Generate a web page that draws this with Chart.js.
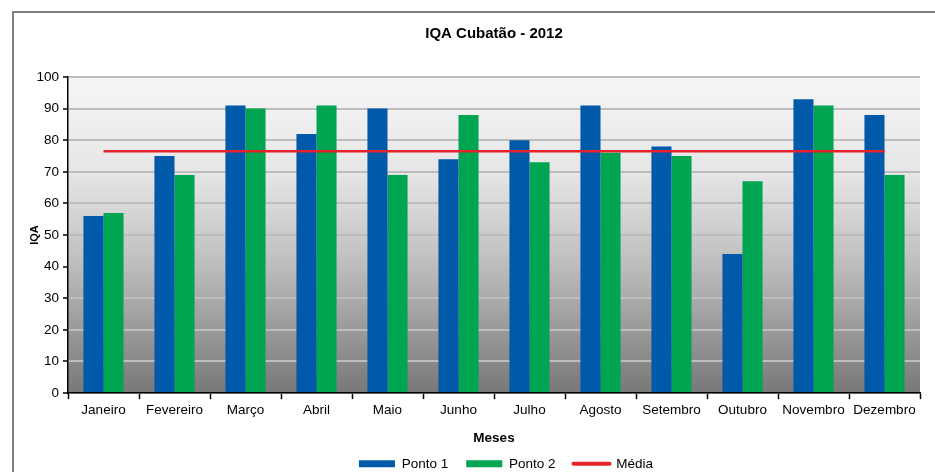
<!DOCTYPE html>
<html>
<head>
<meta charset="utf-8">
<script src="https://cdn.jsdelivr.net/npm/chart.js@4.4.0/dist/chart.umd.min.js"></script>
<style>
html,body{margin:0;padding:0;background:#fff;}
#wrap{position:relative;width:935px;height:472px;}
</style>
</head>
<body>
<div id="wrap"><canvas id="c" width="935" height="472"></canvas></div>
<script>
const categories = ["Janeiro","Fevereiro","Março","Abril","Maio","Junho","Julho","Agosto","Setembro","Outubro","Novembro","Dezembro"];
const ponto1 = [56,75,91,82,90,74,80,91,78,44,93,88];
const ponto2 = [57,69,90,91,69,88,73,76,75,67,91,69];
const media = [76.5,76.5,76.5,76.5,76.5,76.5,76.5,76.5,76.5,76.5,76.5,76.5];
const yTicks = [0,10,20,30,40,50,60,70,80,90,100];

const FONT = "'Liberation Sans', Arial, sans-serif";

const bgPlugin = {
  id: 'bg',
  afterLayout(chart) {
    const a = chart.chartArea;
    if (chart.titleBlock) { chart.titleBlock.left = a.left; chart.titleBlock.right = a.right; }
    if (chart.legend) {
      const lg = chart.legend;
      const h = lg.bottom - lg.top;
      lg.left = a.left + 12; lg.right = a.right + 12;
      lg.top = a.bottom + 46; lg.bottom = lg.top + h;
    }
  },
  beforeDraw(chart) {
    const {ctx, chartArea: a} = chart;
    ctx.save();
    ctx.fillStyle = '#fff';
    ctx.fillRect(0, 0, chart.width, chart.height);
    const g = ctx.createLinearGradient(0, a.top, 0, a.bottom);
    g.addColorStop(0, '#f6f6f8');
    g.addColorStop(0.3, '#e6e6e6');
    g.addColorStop(0.55, '#c4c4c4');
    g.addColorStop(1, '#787878');
    ctx.fillStyle = g;
    ctx.fillRect(a.left, a.top, a.right - a.left, a.bottom - a.top);
    ctx.strokeStyle = '#7f7f7f';
    ctx.lineWidth = 2;
    ctx.beginPath();
    ctx.moveTo(13, chart.height + 5);
    ctx.lineTo(13, 12);
    ctx.lineTo(chart.width + 5, 12);
    ctx.stroke();
    ctx.restore();
  }
};

new Chart(document.getElementById('c'), {
  type: 'bar',
  data: {
    labels: categories,
    datasets: [
      {label: 'Ponto 1', data: ponto1, backgroundColor: '#0059a9', borderWidth: 0, pointStyle: 'rect', order: 2},
      {label: 'Ponto 2', data: ponto2, backgroundColor: '#00a552', borderWidth: 0, pointStyle: 'rect', order: 2},
      {label: 'Média', type: 'line', data: media, borderColor: '#e6222b', backgroundColor: '#e6222b', borderWidth: 2.5, pointRadius: 0, pointStyle: 'line', order: 1}
    ]
  },
  plugins: [bgPlugin],
  options: {
    responsive: false,
    animation: false,
    devicePixelRatio: 1,
    layout: {padding: {left: 0, right: 15, top: 0, bottom: -16}},
    datasets: {bar: {categoryPercentage: 0.565, barPercentage: 1.0}},
    plugins: {
      title: {
        display: true,
        text: 'IQA Cubatão - 2012',
        color: '#000',
        font: {family: FONT, size: 15, weight: 'bold'},
        padding: {top: 25, bottom: 34}
      },
      legend: {
        position: 'bottom',
        labels: {
          color: '#000',
          font: {family: FONT, size: 13.5},
          usePointStyle: true,
          pointStyleWidth: 36,
          boxHeight: 7,
          padding: 18,
          sort: (a, b) => a.datasetIndex - b.datasetIndex,
          generateLabels(chart) {
            const items = Chart.defaults.plugins.legend.labels.generateLabels(chart);
            items.forEach(it => { if (it.pointStyle === 'line') { it.lineWidth = 4; it.lineCap = 'round'; } });
            return items;
          }
        }
      },
      tooltip: {enabled: false}
    },
    scales: {
      x: {
        grid: {drawOnChartArea: false, drawTicks: true, tickLength: 6, tickColor: '#000', tickWidth: 1.5, offset: true},
        border: {color: '#000', width: 1.5},
        ticks: {color: '#000', font: {family: FONT, size: 13.5}, padding: 3, maxRotation: 0, autoSkip: false},
        title: {display: true, text: 'Meses', color: '#000', font: {family: FONT, size: 13.5, weight: 'bold'}, padding: {top: 9, bottom: 0}}
      },
      y: {
        min: 0, max: 100,
        afterBuildTicks(scale) { scale.ticks = yTicks.map(v => ({value: v})); },
        afterFit(scale) { scale.width = 68; },
        grid: {color: '#bdbdbd', lineWidth: 2, tickColor: '#000', tickLength: 5, tickWidth: 1.5, drawTicks: true},
        border: {color: '#000', width: 1.5},
        ticks: {color: '#000', font: {family: FONT, size: 13.5}, padding: 4},
        title: {display: true, text: 'IQA', color: '#000', font: {family: FONT, size: 11, weight: 'bold'}, padding: {top: 28, bottom: 0}}
      }
    }
  }
});
</script>
</body>
</html>
